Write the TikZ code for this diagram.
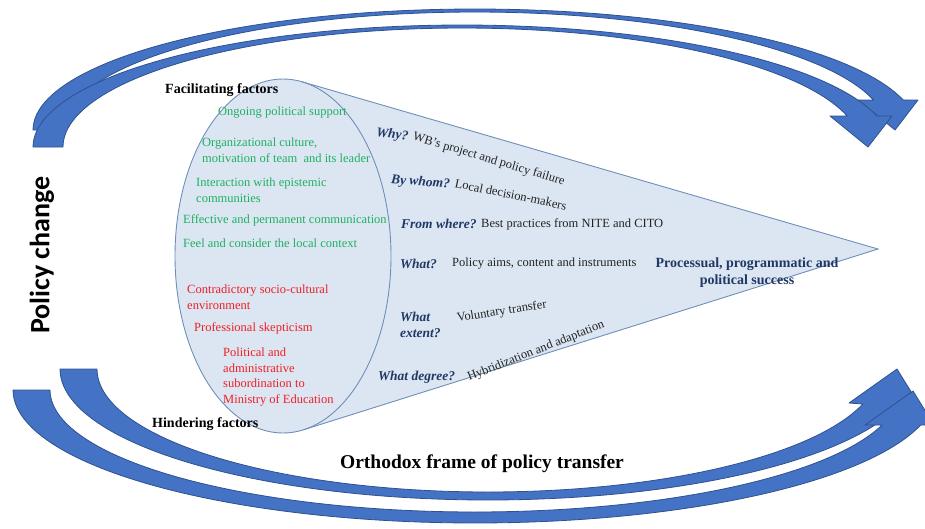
\documentclass[tikz,border=0pt]{standalone}
\usepackage{fontspec}
\setmainfont{Liberation Serif}
\newfontfamily\calibrifont{Carlito}
\usetikzlibrary{shapes.geometric}
\definecolor{arrowfill}{HTML}{4472C4}
\definecolor{arrowline}{HTML}{2F528F}
\definecolor{conefill}{HTML}{DCE6F3}
\definecolor{coneline}{HTML}{6F8FB8}
\definecolor{facgreen}{HTML}{1DB060}
\definecolor{hindred}{HTML}{F01E23}
\definecolor{qnavy}{HTML}{1F3864}
\definecolor{anstext}{HTML}{222222}
\begin{document}
\begin{tikzpicture}[x=1pt,y=-1pt,
  bigarrow/.style={fill=arrowfill,draw=arrowline,line width=0.8pt,line join=round},
  conefillstyle/.style={fill=conefill},
  coneedge/.style={draw=coneline,line width=0.9pt},
  fac/.style={text=facgreen,font=\fontsize{12.5}{15.5}\selectfont,anchor=west,inner sep=0pt,align=left},
  hin/.style={text=hindred,font=\fontsize{12.5}{15.5}\selectfont,anchor=west,inner sep=0pt,align=left},
  hdr/.style={font=\fontsize{14}{16}\selectfont\bfseries,anchor=west,inner sep=0pt},
  qst/.style={text=qnavy,font=\fontsize{13.5}{16}\selectfont\bfseries\itshape,anchor=west,inner sep=0pt,align=left},
  ans/.style={text=anstext,font=\fontsize{12.5}{15}\selectfont,anchor=west,inner sep=0pt},
]
\useasboundingbox (0,0) rectangle (925,528);
\begin{scope}
\clip (0,0) rectangle (925,528);
% top arrows
\path[bigarrow] plot[domain=180:345.64,samples=90,variable=\t] ({475+442*cos(\t)},{130+121*sin(\t)})
  -- (918,100) -- (895,130) -- (858,100)
  -- plot[domain=345.27:180,samples=90,variable=\t] ({475+412*cos(\t)},{130+118*sin(\t)}) -- cycle;
\path[bigarrow] plot[domain=180:345.28,samples=90,variable=\t] ({462+429*cos(\t)},{147+122*sin(\t)})
  -- (892,116) -- (868,147) -- (830,116)
  -- plot[domain=344.9:180,samples=90,variable=\t] ({462+399*cos(\t)},{147+119*sin(\t)}) -- cycle;
% bottom arrows
\path[bigarrow] plot[domain=180:15.04,samples=90,variable=\t] ({488+428*cos(\t)},{369+131*sin(\t)})
  -- (918,403) -- (897,369) -- (849,403)
  -- plot[domain=16.53:180,samples=90,variable=\t] ({488+391*cos(\t)},{369+123*sin(\t)}) -- cycle;
\path[bigarrow] plot[domain=180:15.26,samples=90,variable=\t] ({475+462*cos(\t)},{390+133*sin(\t)})
  -- (934,425) -- (913,391) -- (865,425)
  -- plot[domain=16.67:180,samples=90,variable=\t] ({475+425*cos(\t)},{390+122*sin(\t)}) -- cycle;
\end{scope}
% cone
\coordinate (apex) at (878,249);
\coordinate (tantop) at (301.8,81.7);
\coordinate (tanbot) at (303.4,429.8);
\fill[conefillstyle] (tantop) -- (apex) -- (tanbot) -- cycle;
\node[ellipse,draw=coneline,line width=0.9pt,fill=conefill,minimum width=216pt,minimum height=354pt,inner sep=0pt] (ell) at (283,256) {};
\draw[coneedge] (tantop) -- (apex) -- (tanbot);
% factor texts
\node[hdr] (facil) at (165,90) {Facilitating factors};
\node[fac] (f1) at (218,113) {Ongoing political support};
\node[fac] (f2) at (202,150) {Organizational culture,\\motivation of team~ and its leader};
\node[fac] (f3) at (196,190) {Interaction with epistemic\\communities};
\node[fac] (f4) at (183,220) {Effective and permanent communication};
\node[fac] (f5) at (183,243) {Feel and consider the local context};
\node[hin] (h1) at (187,297) {Contradictory socio-cultural\\environment};
\node[hin] (h2) at (194,328) {Professional skepticism};
\node[hin] (h3) at (223,377) {Political and\\administrative\\subordination to\\Ministry of Education};
\node[hdr] (hinder) at (152,424) {Hindering factors};
% questions and answers
\node[qst,rotate=-8] (q1) at (376,133) {Why?};
\node[ans,rotate=-16.6] (a1) at (413,137) {WB’s project and policy failure};
\node[qst,rotate=-5] (q2) at (391,180) {By whom?};
\node[ans,rotate=-11.6] (a2) at (455,183) {Local decision-makers};
\node[qst] (q3) at (401,224) {From where?};
\node[ans] (a3) at (481,224) {Best practices from NITE and CITO};
\node[qst] (q4) at (400,264) {What?};
\node[ans] (a4) at (452,264) {Policy aims, content and instruments};
\node[text=qnavy,font=\fontsize{14}{17}\selectfont\bfseries,align=center,inner sep=0pt] (succ) at (747,273) {Processual, programmatic and\\political success};
\node[qst] (q5) at (400,325) {What\\extent?};
\node[ans,rotate=9] (a5) at (457,319) {Voluntary transfer};
\node[qst] (q6) at (378,377) {What degree?};
\node[ans,rotate=21.5] (a6) at (468,378) {Hybridization and adaptation};
% captions
\node[font=\calibrifont\bfseries\fontsize{28}{30}\selectfont,rotate=90,inner sep=0pt] (pc) at (42,255) {Policy change};
\node[font=\fontsize{19.5}{22}\selectfont\bfseries,inner sep=0pt] (orth) at (482,464) {Orthodox frame of policy transfer};
\end{tikzpicture}
\end{document}
